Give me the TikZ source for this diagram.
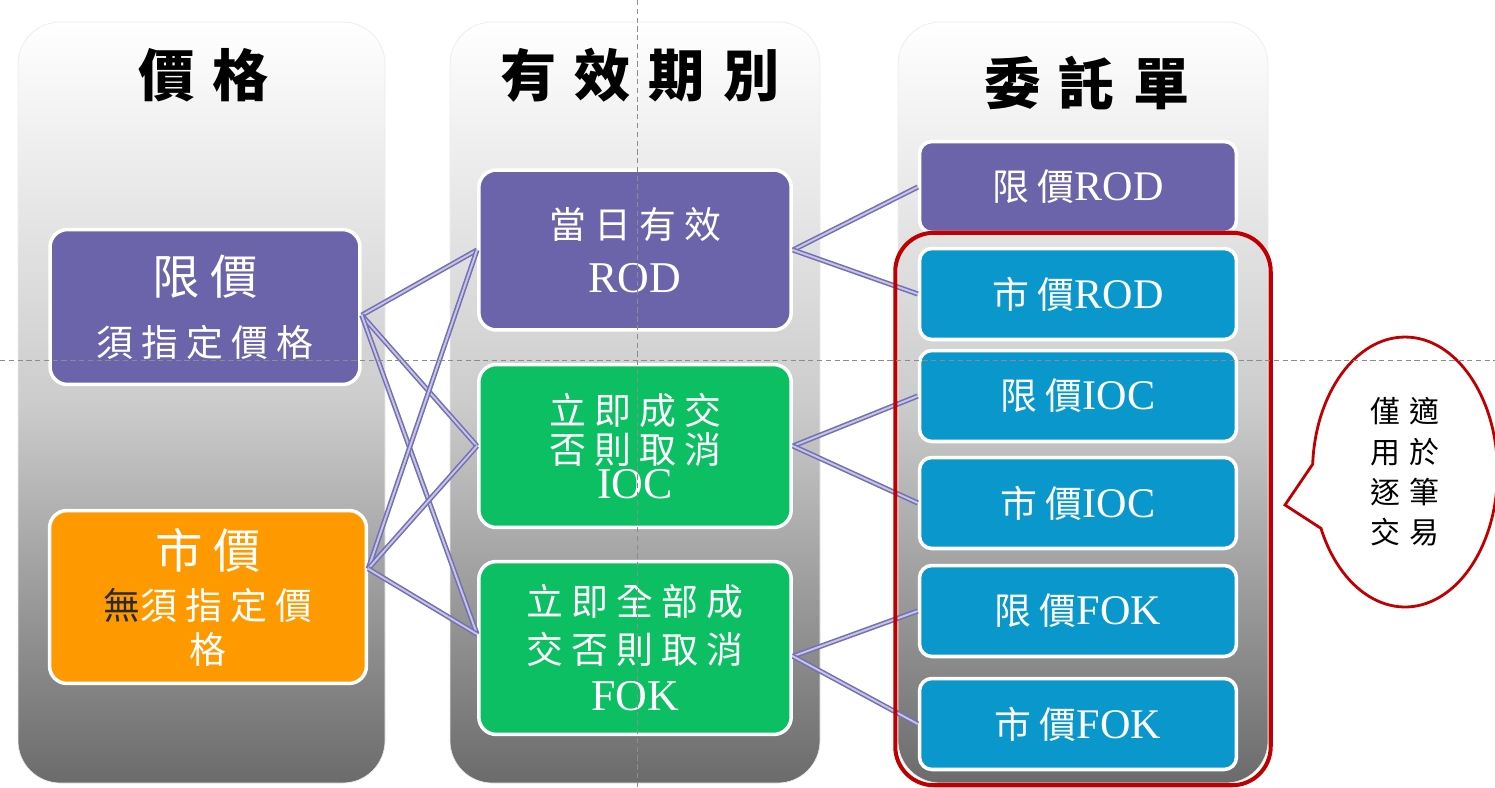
\documentclass[tikz,border=0pt]{standalone}
\usepackage{fontspec}
\setmainfont{Liberation Serif}
\newfontfamily\cjk[LetterSpace=22]{Noto Sans CJK TC}
\newfontfamily\cjkw[LetterSpace=32]{Noto Sans CJK TC}
\usetikzlibrary{positioning}
\usetikzlibrary{fit}
\usetikzlibrary{shapes.callouts}
\definecolor{purp}{HTML}{6B64AB}
\definecolor{grn}{HTML}{0DBF63}
\definecolor{orng}{HTML}{FF9900}
\definecolor{blu}{HTML}{0A98CC}
\definecolor{lnkc}{HTML}{7370B6}
\definecolor{redb}{HTML}{C00000}
\definecolor{ink}{HTML}{2A2A2A}
\tikzset{col/.style={rounded corners=24pt, top color=white, bottom color=black!58, middle color=black!20, draw=black!8}}
\tikzset{ttl/.style={font=\cjkw\bfseries\fontsize{32}{36}\selectfont}}
\tikzset{box/.style={draw=white, line width=2pt, text=white, align=center, inner sep=0pt, font=\cjk\fontsize{21}{25}\selectfont}}
\tikzset{bigbox/.style={box, rounded corners=10pt, minimum width=6.25cm}}
\tikzset{ord/.style={box, fill=blu, rounded corners=7pt, minimum width=6.34cm, minimum height=1.82cm}}
\tikzset{lnk/.style={draw=lnkc, double=lnkc!40, line width=0.9pt, double distance=1.1pt}}
\tikzset{guide/.style={draw=black!45, line width=0.4pt, dash pattern=on 3pt off 2pt}}
\tikzset{bubble/.style={ellipse callout, draw=redb, line width=1.6pt, fill=white, callout pointer arc=28, minimum width=3.7cm, minimum height=5.4cm, inner sep=0pt, align=center, font=\cjkw\fontsize{17}{23}\selectfont}}

\begin{document}
\begin{tikzpicture}[x=0.02cm, y=-0.02cm]
\useasboundingbox (0,0) rectangle (1495,788);

\path[col] (18,22) rectangle (385,783);
\path[col] (450,22) rectangle (820,783);
\path[col] (898,22) rectangle (1268,783);

\node[ttl] (tp) at (204,75) {價格};
\node[ttl] (tv) at (640,75) {有效期別};
\node[ttl] (to) at (1087,83) {委託單};

\node[bigbox, fill=purp, minimum width=6.2cm, minimum height=3.1cm] (lim) at (205,307)
  {{\fontsize{27}{30}\selectfont 限價}\\[10pt]須指定價格};
\node[bigbox, fill=orng, minimum width=6.34cm, minimum height=3.46cm] (mkt) at (208,597)
  {{\fontsize{27}{30}\selectfont 市價}\\[4pt]{\color{ink}無}須指定價\\格};

\node[bigbox, fill=purp, minimum height=3.2cm] (rod) at (635,250)
  {當日有效\\[6pt]{\rmfamily\fontsize{25}{28}\selectfont ROD}};
\node[bigbox, fill=grn, minimum height=3.26cm, font=\cjk\fontsize{21}{22}\selectfont] (ioc) at (635,446)
  {立即成交\\否則取消\\[-2pt]{\rmfamily\fontsize{25}{26}\selectfont IOC}};
\node[bigbox, fill=grn, minimum height=3.46cm] (fok) at (635,648)
  {立即全部成\\[2pt]交否則取消\\[2pt]{\rmfamily\fontsize{25}{28}\selectfont FOK}};

\node[ord, fill=purp] (o1) at (1078,187) {限價{\rmfamily\fontsize{24}{26}\selectfont ROD}};
\node[ord] (o2) at (1078,294) {市價{\rmfamily\fontsize{24}{26}\selectfont ROD}};
\node[ord] (o3) at (1078,396) {限價{\rmfamily\fontsize{24}{26}\selectfont IOC}};
\node[ord] (o4) at (1078,503) {市價{\rmfamily\fontsize{24}{26}\selectfont IOC}};
\node[ord] (o5) at (1078,611) {限價{\rmfamily\fontsize{24}{26}\selectfont FOK}};
\node[ord] (o6) at (1078,724) {市價{\rmfamily\fontsize{24}{26}\selectfont FOK}};

\draw[lnk] (lim.357) -- (rod.west);
\draw[lnk] (lim.357) -- (ioc.west);
\draw[lnk] (lim.357) -- (fok.175);
\draw[lnk] (mkt.10) -- (rod.west);
\draw[lnk] (mkt.10) -- (ioc.west);
\draw[lnk] (mkt.10) -- (fok.175);

\draw[lnk] (rod.east) -- (o1.west);
\draw[lnk] (rod.east) -- (o2.west);
\draw[lnk] (ioc.east) -- (o3.west);
\draw[lnk] (ioc.east) -- (o4.west);
\draw[lnk] (fok.357) -- (o5.west);
\draw[lnk] (fok.357) -- (o6.west);

\node[draw=redb, line width=2.3pt, rounded corners=22pt, fit=(o2) (o6), inner xsep=0.55cm, inner ysep=0.28cm, xshift=0.1cm] (grp) {};

\coordinate (tip) at (1285,505);
\node[bubble, callout absolute pointer={(tip)}] (nt) at (1405,472) {僅適\\用於\\逐筆\\交易};

\draw[guide] (637,0) -- (637,788);
\draw[guide] (0,360) -- (1495,360);
\end{tikzpicture}
\end{document}
